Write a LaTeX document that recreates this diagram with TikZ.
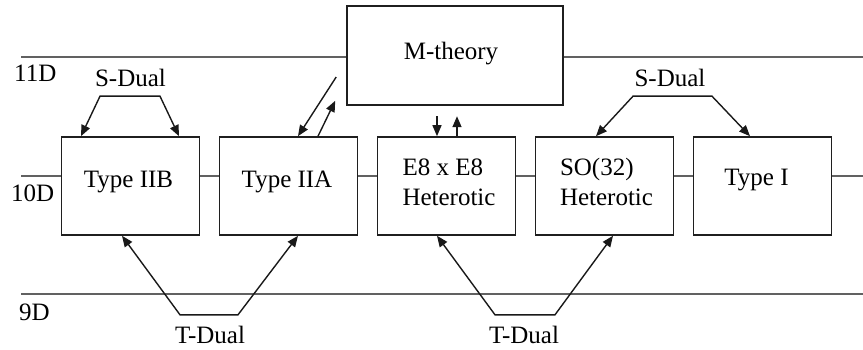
\documentclass[tikz,border=0pt]{standalone}
\usepackage{fontspec}
\setmainfont{Liberation Serif}
\usetikzlibrary{arrows.meta,calc}
\begin{document}
\begin{tikzpicture}[x=1pt,y=-1pt,
  theory/.style={draw=black!88, line width=1.6pt, minimum width=138pt,
    minimum height=98pt, inner sep=0pt, fill=white},
  lbl/.style={font=\fontsize{25}{30}\selectfont, inner sep=0pt},
  level/.style={draw=black!62, line width=1.7pt},
  tip/.tip={Triangle[length=11pt,width=9pt]},
  dual/.style={draw=black!90, line width=1.4pt, tip-tip},
  oneway/.style={draw=black!90, line width=1.4pt, -tip}]
\useasboundingbox (0,0) rectangle (863,350);

% dimension levels
\coordinate (l11) at (21,57);  \coordinate (r11) at (863,57);
\coordinate (l10) at (21,176); \coordinate (r10) at (863,176);
\coordinate (l9)  at (21,294); \coordinate (r9)  at (863,294);

% theory boxes
\node[theory] (iib) at (130.5,186) {};
\node[theory] (iia) at (288.5,186) {};
\node[theory] (e8)  at (446.5,186) {};
\node[theory] (so)  at (604.5,186) {};
\node[theory] (ti)  at (762.5,186) {};
\node[theory, minimum width=216pt, minimum height=99pt] (m) at (455,55.5) {};

% horizontal level lines
\draw[level] (l11) -- (l11 -| m.west);
\draw[level] (m.east |- r11) -- (r11);
\draw[level] (l10) -- (l10 -| iib.west);
\draw[level] (iib.east |- l10) -- (l10 -| iia.west);
\draw[level] (iia.east |- l10) -- (l10 -| e8.west);
\draw[level] (e8.east |- l10) -- (l10 -| so.west);
\draw[level] (so.east |- l10) -- (l10 -| ti.west);
\draw[level] (ti.east |- r10) -- (r10);
\draw[level] (l9) -- (r9);

% box texts
\node[lbl, anchor=base] (tm) at ($(m.north)+(-4,54)$) {M-theory};
\node[lbl, anchor=base] (tiib) at ($(iib.north)+(-2,51)$) {Type IIB};
\node[lbl, anchor=base] (tiia) at ($(iia.north)+(-1.5,51)$) {Type IIA};
\node[lbl, align=left] (te8) at ($(e8.center)+(2.5,-4)$) {E8 x E8\\Heterotic};
\node[lbl, align=left] (tso) at ($(so.center)+(2,-4)$) {SO(32)\\Heterotic};
\node[lbl, anchor=base] (tti) at ($(ti.north)+(-6,49)$) {Type I};

% dimension labels
\node[lbl, anchor=base west] (d11) at (14,82) {11D};
\node[lbl, anchor=base west] (d10) at (11,202) {10D};
\node[lbl, anchor=base west] (d9)  at (19,320) {9D};

% S-dualities
\draw[dual] ($(iib.north)+(-49.5,0)$) -- ($(iib.north)+(-30.5,-40)$)
  -- ($(iib.north)+(29.5,-40)$) -- ($(iib.north)+(48.5,0)$);
\node[lbl, anchor=base] (sl) at ($(iib.north)+(0,-50)$) {S-Dual};
\draw[dual] ($(so.north)+(-8.5,0)$) -- ($(so.north)+(28.5,-40)$)
  -- ($(ti.north)+(-50.5,-40)$) -- ($(ti.north)+(-12.5,0)$);
\node[lbl, anchor=base] (sr) at ($(so.north)+(65.5,-50)$) {S-Dual};

% T-dualities
\draw[dual] ($(iib.south)+(-8.5,0)$) -- ($(iib.south)+(49.5,79)$)
  -- ($(iia.south)+(-50.5,79)$) -- ($(iia.south)+(9.5,0)$);
\node[lbl, anchor=base] (tl) at ($(iib.south)+(79.5,108)$) {T-Dual};
\draw[dual] ($(e8.south)+(-9.5,0)$) -- ($(e8.south)+(48.5,79)$)
  -- ($(so.south)+(-49.5,79)$) -- ($(so.south)+(8.5,0)$);
\node[lbl, anchor=base] (tr) at ($(e8.south)+(77.5,108)$) {T-Dual};

% links to M-theory
\coordinate (a1) at ($(m.west)+(-10,21.5)$);
\coordinate (a2) at ($(m.south west)+(-11,-5)$);
\draw[oneway] (a1) -- ($(iia.north)+(9.5,0)$);
\draw[oneway] ($(iia.north)+(29.5,0)$) -- (a2);
\draw[oneway] ($(e8.north)+(-9.5,-20)$) -- ($(e8.north)+(-9.5,0)$);
\draw[oneway] ($(e8.north)+(10.5,0)$) -- ($(e8.north)+(10.5,-20)$);
\end{tikzpicture}
\end{document}
